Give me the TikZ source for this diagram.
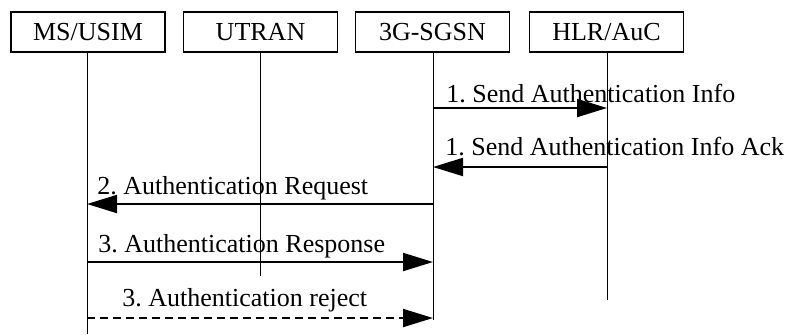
\documentclass[tikz,border=0pt]{standalone}
\usepackage{fontspec}
\setmainfont{Liberation Serif}
\frenchspacing
\usetikzlibrary{arrows.meta}
\begin{document}
\begin{tikzpicture}[x=.5pt, y=-.5pt, >={Triangle[length=15pt,width=9pt]},
  font=\fontsize{13}{15}\selectfont,
  box/.style={draw, line width=.85pt, minimum width=77pt, minimum height=20pt, inner sep=0pt},
  life/.style={line width=.5pt},
  msg/.style={line width=1pt, ->},
  lbl/.style={anchor=base west, inner sep=0pt}]
\useasboundingbox (0,0) rectangle (790,334);
\node[box] (ms) at (88,32) {MS/USIM};
\node[box] (utran) at (260.5,32) {UTRAN};
\node[box] (sgsn) at (432.5,32) {3G-SGSN};
\node[box] (hlr) at (606.5,32) {HLR/AuC};
% lifelines
\coordinate (msend) at (87,334);
\coordinate (utend) at (260,276);
\coordinate (sgend) at (433,320);
\coordinate (hlend) at (607,300);
\draw[life] (ms.south -| msend)--(msend);
\draw[life] (utran.south -| utend)--(utend);
\draw[life] (sgsn.south -| sgend)--(sgend);
\draw[life] (hlr.south -| hlend)--(hlend);
% messages
\coordinate (s1) at (433,108); \coordinate (h1) at (607,108);
\coordinate (h2) at (607,167); \coordinate (s2) at (433,167);
\coordinate (s3) at (433,204); \coordinate (m3) at (87,204);
\coordinate (m4) at (87,262); \coordinate (s4) at (433,262);
\coordinate (m5) at (87,318); \coordinate (s5) at (433,318);
\draw[msg] (s1)--(h1);
\node[lbl] (t1) at (446,102) {1. Send Authentication Info};
\draw[msg] (h2)--(s2);
\node[lbl] (t2) at (445,155) {1. Send Authentication Info Ack};
\draw[msg] (s3)--(m3);
\node[lbl] (t3) at (97,194) {2. Authentication Request};
\draw[msg] (m4)--(s4);
\node[lbl] (t4) at (98,252) {3. Authentication Response};
\draw[msg, dash pattern=on 4pt off 2.5pt] (m5)--(s5);
\node[lbl] (t5) at (122,306) {3. Authentication reject};
\end{tikzpicture}
\end{document}
